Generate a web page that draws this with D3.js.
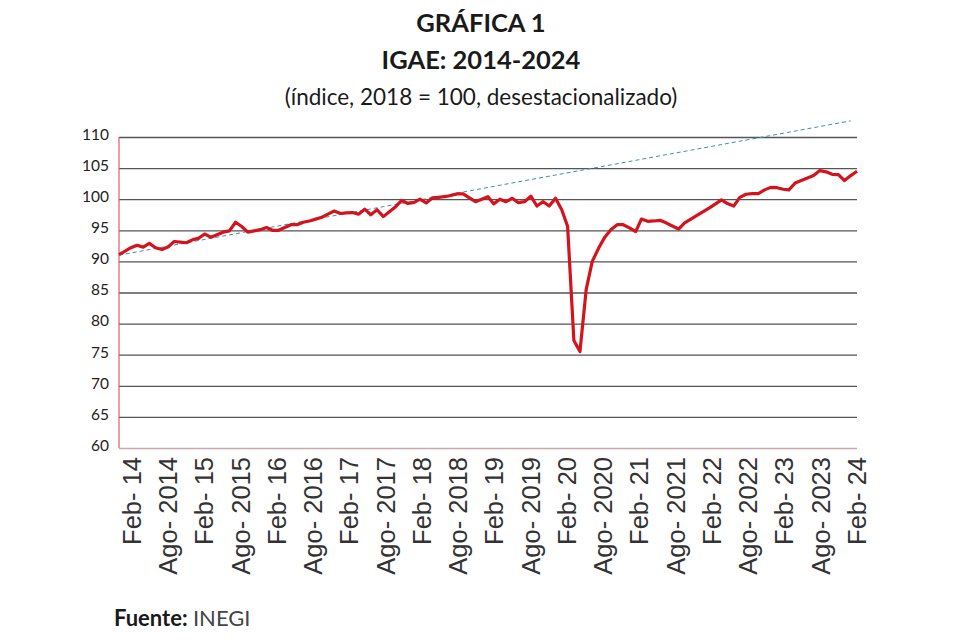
<!DOCTYPE html>
<html>
<head>
<meta charset="utf-8">
<script src="https://cdn.jsdelivr.net/npm/d3@7"></script>
<style>
    body { margin: 0; background: #fff; }
    text { font-family: Lato, "Open Sans", sans-serif; }
</style>
</head>
<body>
<div id="chart"></div>
<script>
// chart values
// monthly IGAE, Feb 2014 to Feb 2024 (index, 2018 = 100)
var firstMonth = "2014-02";
var igaeValues = [
    91.1, 91.6, 92.2, 92.6, 92.3, 92.9, 92.2, 91.9, 92.3, 93.2, 93.1,
    93.0, 93.5, 93.7, 94.4, 93.9, 94.3, 94.7, 94.9, 96.3, 95.6, 94.7, 94.9,
    95.1, 95.45, 95.0, 95.0, 95.45, 95.9, 95.9, 96.3, 96.5, 96.8, 97.1, 97.6,
    98.1, 97.7, 97.8, 97.85, 97.6, 98.4, 97.5, 98.3, 97.2, 98.0, 98.8, 99.8,
    99.3, 99.5, 100.0, 99.4, 100.2, 100.3, 100.4, 100.6, 100.85, 100.85, 100.2, 99.6,
    100.0, 100.4, 99.25, 100.0, 99.6, 100.15, 99.45, 99.6, 100.5, 98.9, 99.6, 98.9,
    100.15, 98.3, 95.6, 77.3, 75.5, 85.5, 90.0, 92.1, 93.9, 95.1, 95.9, 95.9,
    95.4, 94.8, 96.8, 96.45, 96.5, 96.6, 96.2, 95.7, 95.2, 96.2, 96.8, 97.4,
    98.0, 98.6, 99.2, 99.9, 99.3, 98.9, 100.3, 100.8, 100.9, 100.9, 101.5, 101.9,
    101.85, 101.6, 101.5, 102.6, 103.0, 103.4, 103.8, 104.6, 104.4, 104.0, 103.95, 103.0,
    103.8, 104.5
];

// dashed trend line, two end points
var trendMonths = ["2014-02", "2024-01"];
var trendValues = [91.0, 112.6];

// axis ticks and labels
var yTicks = [60, 65, 70, 75, 80, 85, 90, 95, 100, 105, 110];
var xLabels = ["Feb- 14", "Ago- 2014", "Feb- 15", "Ago- 2015", "Feb- 16", "Ago- 2016",
    "Feb- 17", "Ago- 2017", "Feb- 18", "Ago- 2018", "Feb- 19", "Ago- 2019",
    "Feb- 20", "Ago- 2020", "Feb- 21", "Ago- 2021", "Feb- 22", "Ago- 2022",
    "Feb- 23", "Ago- 2023", "Feb- 24"];

// svg area
var svgWidth = 960;
var svgHeight = 640;

var margin = {
    top: 137,
    right: 103,
    bottom: 192,
    left: 119
};
var chartWidth = svgWidth - margin.left - margin.right;
var chartHeight = svgHeight - margin.top - margin.bottom;

var svg = d3.select("#chart")
    .append("svg")
    .attr("width", svgWidth)
    .attr("height", svgHeight);

var parseMonth = d3.timeParse("%Y-%m");
var start = parseMonth(firstMonth);

// build the monthly series
var igaeData = igaeValues.map(function(v, i) {
    return { date: d3.timeMonth.offset(start, i), value: v };
});
var trendData = trendMonths.map(function(m, i) {
    return { date: parseMonth(m), value: trendValues[i] };
});

var chartGroup = svg.append("g")
    .attr("transform", `translate(${margin.left}, ${margin.top})`);

// scales
var xTimeScale = d3.scaleTime()
    .domain(d3.extent(igaeData, d => d.date))
    .range([0, chartWidth]);

var yLinearScale = d3.scaleLinear()
    .domain([60, 110])
    .range([chartHeight, 0]);

// labels are spread evenly under the plot
var xLabelScale = d3.scalePoint()
    .domain(xLabels)
    .range([13, chartWidth]);

// gridlines
var leftAxis = d3.axisLeft(yLinearScale)
    .tickValues(yTicks)
    .tickSize(-chartWidth)
    .tickPadding(10)
    .tickFormat(d3.format("d"));

var yAxis = chartGroup.append("g")
    .call(leftAxis);

yAxis.select(".domain").remove();
yAxis.selectAll(".tick line")
    .attr("stroke", d => d === 60 ? "#c9a9ac" : "#555")
    .attr("stroke-width", 1.3);
yAxis.selectAll(".tick text")
    .attr("fill", "#222")
    .attr("font-size", "15.5px")
    .attr("dy", "0.15em")
    .style("font-family", "Lato, sans-serif");

// red vertical axis line
chartGroup.append("line")
    .attr("x1", 0)
    .attr("x2", 0)
    .attr("y1", yLinearScale(110))
    .attr("y2", yLinearScale(60))
    .attr("stroke", "#e05a66")
    .attr("stroke-width", 1.2);

// x labels, rotated
chartGroup.append("g")
    .selectAll("text")
    .data(xLabels)
    .enter()
    .append("text")
    .attr("transform", d => `translate(${xLabelScale(d)}, ${chartHeight + 9}) rotate(-90)`)
    .attr("text-anchor", "end")
    .attr("dy", "0.35em")
    .attr("fill", "#333")
    .attr("font-size", "25.5px")
    .style("font-family", "'Liberation Sans', Arial, sans-serif")
    .text(d => d);

// trend line
var lineGen = d3.line()
    .x(d => xTimeScale(d.date))
    .y(d => yLinearScale(d.value));

chartGroup.append("path")
    .datum(trendData)
    .attr("d", lineGen)
    .attr("fill", "none")
    .attr("stroke", "#3f8fb6")
    .attr("stroke-width", 1)
    .attr("stroke-dasharray", "4,3");

// igae line
chartGroup.append("path")
    .datum(igaeData)
    .attr("d", lineGen)
    .attr("fill", "none")
    .attr("stroke", "#d3141d")
    .attr("stroke-width", 3.2)
    .attr("stroke-linejoin", "round");

// titles
svg.append("text")
    .attr("x", 481)
    .attr("y", 32)
    .attr("text-anchor", "middle")
    .attr("font-size", "25.5px")
    .attr("font-weight", "bold")
    .attr("fill", "#1a1a1a")
    .text("GRÁFICA 1");

svg.append("text")
    .attr("x", 481)
    .attr("y", 69)
    .attr("text-anchor", "middle")
    .attr("font-size", "25.5px")
    .attr("font-weight", "bold")
    .attr("fill", "#1a1a1a")
    .text("IGAE: 2014-2024");

svg.append("text")
    .attr("x", 481)
    .attr("y", 105)
    .attr("text-anchor", "middle")
    .attr("font-size", "22.5px")
    .attr("fill", "#1a1a1a")
    .text("(índice, 2018 = 100, desestacionalizado)");

// source
var source = svg.append("text")
    .attr("x", 114)
    .attr("y", 626)
    .attr("font-size", "22px")
    .attr("fill", "#1a1a1a");

source.append("tspan")
    .attr("font-weight", "bold")
    .text("Fuente: ");

source.append("tspan")
    .attr("fill", "#444")
    .text("INEGI");
</script>
</body>
</html>
